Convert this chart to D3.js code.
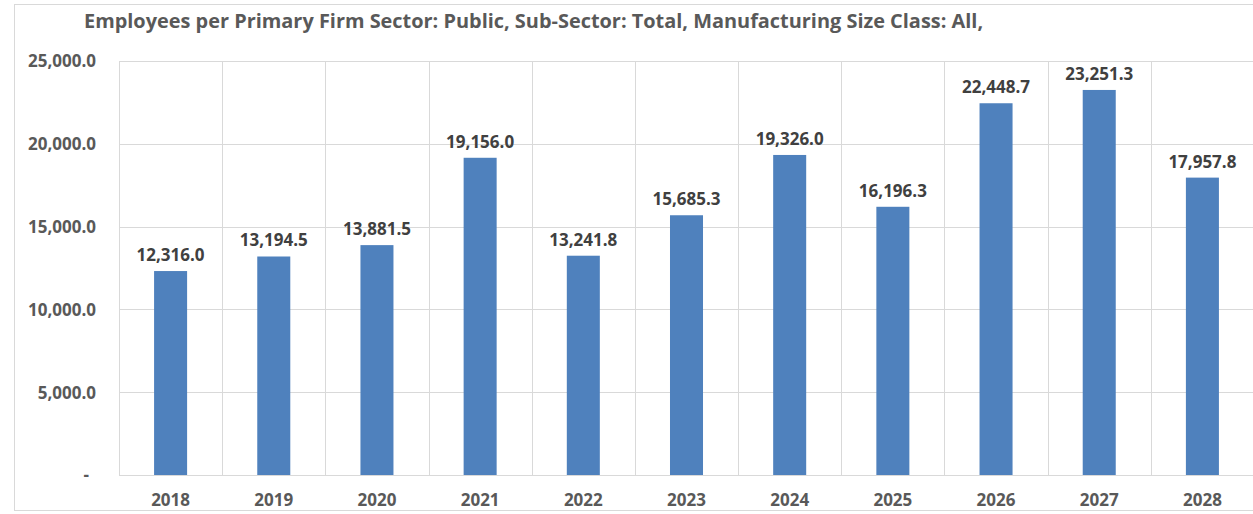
<!DOCTYPE html>
<html><head><meta charset="utf-8">
<script src="https://cdn.jsdelivr.net/npm/d3@7"></script>
<style>body{margin:0;background:#fff;} svg{display:block;}</style>
</head><body>
<script>
const categories = ["2018","2019","2020","2021","2022","2023","2024","2025","2026","2027","2028"];
const values = [12316.0, 13194.5, 13881.5, 19156.0, 13241.8, 15685.3, 19326.0, 16196.3, 22448.7, 23251.3, 17957.8];
const yTicks = [0, 5000, 10000, 15000, 20000, 25000];
const title = "Employees per Primary Firm Sector: Public, Sub-Sector: Total, Manufacturing Size Class: All,";

(function () {
const W = 1253, H = 514;
const mLeft = 119, mRight = 1254, mTop = 61, mBottom = 475;
const font = "'Open Sans', sans-serif";
const fs = 17;

const svg = d3.select("body").append("svg").attr("width", W).attr("height", H);
svg.append("rect").attr("x", 14.5).attr("y", 4.5).attr("width", W).attr("height", H - 8)
  .attr("fill", "#fff").attr("stroke", "#d9d9d9");

const x = d3.scaleBand().domain(categories).range([mLeft, mRight]).paddingInner(0.68).paddingOuter(0.34);
const xb = d3.scaleBand().domain(categories).range([mLeft, mRight]);
const y = d3.scaleLinear().domain([0, 25000]).range([mBottom, mTop]);

const fmt = d3.format(",.1f");

svg.append("g").selectAll("line").data(yTicks).join("line")
  .attr("x1", mLeft).attr("x2", mRight)
  .attr("y1", d => Math.round(y(d)) + 0.5).attr("y2", d => Math.round(y(d)) + 0.5)
  .attr("stroke", "#d9d9d9").attr("stroke-width", 1);
svg.append("g").selectAll("line").data(categories).join("line")
  .attr("x1", d => Math.round(xb(d)) + 0.5).attr("x2", d => Math.round(xb(d)) + 0.5)
  .attr("y1", mTop).attr("y2", mBottom)
  .attr("stroke", "#d9d9d9").attr("stroke-width", 1);

svg.append("g").selectAll("rect").data(values).join("rect")
  .attr("x", (d, i) => x(categories[i]))
  .attr("width", x.bandwidth())
  .attr("y", d => y(d))
  .attr("height", d => y(0) - y(d))
  .attr("fill", "#4f81bd");

svg.append("g").selectAll("text").data(values).join("text")
  .attr("x", (d, i) => x(categories[i]) + x.bandwidth() / 2)
  .attr("y", d => y(d) - 10)
  .attr("text-anchor", "middle")
  .attr("font-family", font).attr("font-weight", "bold").attr("font-size", fs)
  .attr("fill", "#404040")
  .text(d => fmt(d));

const yAxis = d3.axisLeft(y).tickValues(yTicks).tickSize(0).tickPadding(0)
  .tickFormat(d => d === 0 ? "-" : fmt(d));
const gy = svg.append("g").attr("transform", `translate(96,0)`).call(yAxis);
gy.select(".domain").remove();
gy.selectAll("text").attr("font-family", font).attr("font-weight", "bold").attr("font-size", fs)
  .attr("fill", "#595959").attr("dy", "0.35em");
gy.selectAll(".tick").filter(d => d === 0).select("text").attr("x", -7);

const xAxis = d3.axisBottom(x).tickSize(0).tickPadding(0);
const gx = svg.append("g").attr("transform", `translate(0,506)`).call(xAxis);
gx.select(".domain").remove();
gx.selectAll("text").attr("font-family", font).attr("font-weight", "bold").attr("font-size", fs)
  .attr("fill", "#595959").attr("dy", "0").attr("y", 0);

const t = svg.append("text").attr("x", 84).attr("y", 28)
  .attr("font-family", font).attr("font-weight", "bold").attr("font-size", 18)
  .attr("fill", "#595959").text(title);
const len = t.node().getComputedTextLength();
if (len > 0) t.attr("font-size", 18 * 900 / len);
})();
</script>
</body></html>
